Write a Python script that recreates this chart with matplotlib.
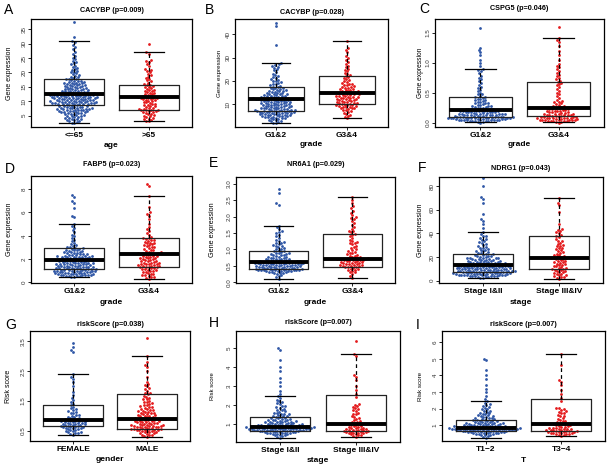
import warnings; warnings.filterwarnings("ignore")
import numpy as np
import matplotlib; matplotlib.use("Agg"); import matplotlib.pyplot as plt

def vals(s): return np.array(s.split(), float)

# ---- data (one list per group) ----
A_LE65 = vals("""2.4 2.6 2.8 3.1 3.2 3.4 3.5 3.7 3.9 4.0 4.2 4.3 4.5 4.6 4.8 4.9 5.0 5.2 5.3 5.4 5.6 5.7 5.8 5.9
6.0 6.1 6.2 6.3 6.4 6.5 6.6 6.7 6.8 6.9 7.0 7.0 7.1 7.2 7.3 7.4 7.5 7.6 7.7 7.8 7.9 8.0 8.1 8.2 8.3 8.5
8.7 8.8 8.9 9.0 9.0 9.1 9.2 9.3 9.4 9.4 9.5 9.6 9.7 9.8 9.8 9.9 10.0 10.1 10.2 10.2 10.3 10.4 10.5 10.6
10.7 10.8 10.9 11.0 11.0 11.1 11.2 11.3 11.3 11.4 11.5 11.6 11.7 11.7 11.8 11.9 12.0 12.0 12.1 12.2 12.2
12.3 12.3 12.4 12.4 12.5 12.6 12.7 12.9 13.0 13.1 13.2 13.4 13.5 13.6 13.7 13.9 14.0 14.1 14.3 14.4 14.5
14.7 14.8 14.9 15.1 15.2 15.3 15.5 15.6 15.7 15.9 16.0 16.1 16.3 16.4 16.5 16.7 16.8 16.9 17.1 17.2 17.4
17.6 17.7 17.9 18.1 18.3 18.6 18.8 19.1 19.4 19.7 20.0 20.3 20.6 21.0 21.3 21.7 22.0 22.4 22.8 23.2 23.6
24.1 24.6 25.2 25.8 26.5 27.3 28.1 28.9 29.7 30.5 30.9 32.2 37.4
8.0 8.4 8.9 9.3 9.6 10.1 10.5 10.9 11.2 11.6 12.1 12.6 13.3 13.8 14.6 15.4 16.2 7.6 9.1 9.9 10.7 11.4
12.9 13.2 14.2 6.6 7.3 11.8 12.7 10.3""")
A_GT65 = vals("""3.0 3.2 3.5 3.8 4.0 4.3 4.5 4.8 5.0 5.2 5.5 5.7 5.9 6.1 6.3 6.5 6.6 6.8 6.9 7.0 7.1 7.2 7.4 7.6
7.8 8.0 8.2 8.4 8.6 8.8 9.0 9.2 9.4 9.6 9.8 10.0 10.2 10.4 10.6 10.8 10.9 11.0 11.1 11.2 11.3 11.4 11.5
11.6 11.8 12.0 12.2 12.4 12.6 12.8 13.0 13.2 13.4 13.6 13.8 14.0 14.2 14.5 14.8 15.0 15.3 15.6 15.8 16.1
16.5 16.9 17.3 17.7 18.2 18.6 19.0 19.5 20.1 20.6 20.9 21.3 22.4 23.1 23.8 24.1 24.3 26.6 27.0 29.9""")
B_G12 = vals("""1.8 2.1 2.4 2.7 2.9 3.1 3.3 3.5 3.7 3.9 4.1 4.3 4.4 4.6 4.8 4.9 5.1 5.2 5.4 5.5 5.7 5.8 5.9 6.0
6.2 6.3 6.4 6.5 6.6 6.7 6.8 6.9 7.0 7.1 7.2 7.3 7.4 7.5 7.6 7.7 7.9 8.0 8.2 8.3 8.5 8.6 8.8 8.9 9.1 9.2
9.4 9.5 9.7 9.8 10.0 10.1 10.3 10.4 10.6 10.7 10.9 11.0 11.2 11.3 11.5 11.6 11.8 11.9 12.0 12.1 12.1 12.2
12.2 12.3 12.3 12.4 12.4 12.5 12.6 12.8 12.9 13.1 13.2 13.4 13.5 13.7 13.8 14.0 14.2 14.3 14.5 14.7 14.9
15.0 15.2 15.4 15.6 15.8 16.0 16.2 16.4 16.6 16.8 17.0 17.2 17.4 17.6 17.9 18.2 18.5 18.8 19.1 19.4 19.8
20.1 20.5 20.9 21.3 21.7 22.2 22.7 23.2 23.8 24.5 25.1 25.7 26.2 26.6 27.0 27.3 27.6 35.4 43.8 45.0
4.2 4.7 5.0 5.3 5.6 6.1 6.4 6.8 7.1 7.4 7.8 8.1 8.4 8.7 9.0 9.3 9.6 9.9 10.2 10.5 10.8 11.1 11.4 11.7
12.0 12.6 13.0 13.6 14.4 15.5""")
B_G34 = vals("""4.0 4.6 5.1 5.6 6.0 6.4 6.8 7.1 7.4 7.7 8.0 8.2 8.5 8.7 8.9 9.1 9.3 9.5 9.7 9.9 10.1 10.3 10.5
10.7 10.9 11.1 11.3 11.5 11.7 11.9 12.1 12.3 12.5 12.7 12.9 13.1 13.3 13.5 13.7 13.9 14.1 14.3 14.5 14.7
14.9 15.1 15.3 15.6 15.8 16.1 16.4 16.6 16.9 17.2 17.5 17.8 18.1 18.4 18.8 19.1 19.5 19.9 20.3 20.7 21.1
21.6 22.0 22.5 23.0 23.6 24.2 24.8 25.3 25.9 26.6 27.4 28.2 29.1 30.0 30.9 32.4 33.5 34.1 37.0
8.3 9.0 9.6 10.4 11.0 11.8 12.4 13.0 13.6 14.2 14.8 15.5 16.3 17.4 18.6""")
C_G12 = vals("""0.00 0.01 0.01 0.02 0.02 0.03 0.03 0.03 0.04 0.04 0.04 0.05 0.05 0.05 0.05 0.06 0.06 0.06 0.06
0.07 0.07 0.07 0.07 0.07 0.08 0.08 0.08 0.08 0.08 0.09 0.09 0.09 0.09 0.10 0.10 0.10 0.11 0.11 0.11 0.12
0.12 0.12 0.13 0.13 0.14 0.14 0.15 0.15 0.15 0.16 0.16 0.17 0.17 0.18 0.18 0.19 0.19 0.20 0.20 0.20 0.21
0.21 0.22 0.22 0.23 0.23 0.24 0.25 0.25 0.26 0.27 0.28 0.28 0.29 0.30 0.31 0.32 0.33 0.34 0.35 0.36 0.37
0.38 0.39 0.40 0.41 0.42 0.43 0.45 0.47 0.48 0.50 0.52 0.55 0.58 0.60 0.63 0.66 0.69 0.72 0.75 0.78 0.82
0.86 0.88 0.89 0.94 1.00 1.05 1.12 1.17 1.21 1.25 1.57
0.04 0.05 0.06 0.07 0.08 0.09 0.10 0.11 0.12 0.13 0.14 0.15 0.16 0.17 0.18 0.19 0.20 0.22 0.26 0.33""")
C_G34 = vals("""0.00 0.01 0.01 0.02 0.02 0.03 0.03 0.04 0.04 0.04 0.05 0.05 0.05 0.06 0.06 0.06 0.07 0.07 0.07
0.08 0.08 0.08 0.09 0.09 0.10 0.10 0.11 0.11 0.12 0.12 0.13 0.13 0.14 0.14 0.15 0.16 0.16 0.17 0.18 0.19
0.20 0.20 0.21 0.22 0.23 0.23 0.24 0.25 0.26 0.28 0.30 0.32 0.34 0.36 0.38 0.41 0.44 0.47 0.50 0.53 0.56
0.59 0.62 0.64 0.66 0.68 0.70 0.72 0.74 0.77 0.80 0.83 0.86 0.89 0.92 0.95 0.98 1.05 1.12 1.20 1.28 1.34
1.38 1.41 1.60
0.03 0.05 0.07 0.09 0.11 0.13 0.15 0.17 0.19 0.21 0.24 0.27 0.31 0.35""")
D_G12 = vals("""0.48 0.50 0.53 0.55 0.58 0.60 0.62 0.65 0.67 0.70 0.72 0.75 0.78 0.80 0.83 0.85 0.88 0.90 0.93
0.95 0.98 1.00 1.02 1.05 1.07 1.10 1.12 1.14 1.17 1.20 1.22 1.25 1.28 1.30 1.33 1.36 1.39 1.42 1.45 1.48
1.51 1.54 1.57 1.60 1.63 1.66 1.69 1.72 1.75 1.78 1.81 1.84 1.87 1.90 1.92 1.95 1.98 2.01 2.05 2.08 2.12
2.15 2.19 2.22 2.26 2.30 2.34 2.38 2.42 2.46 2.50 2.55 2.60 2.65 2.70 2.75 2.80 2.86 2.92 2.98 3.05 3.12
3.20 3.30 3.40 3.52 3.65 3.80 3.95 4.10 4.30 4.50 4.70 4.85 5.00 5.65 5.70 6.40 6.85 6.95 7.35 7.50
0.55 0.6 0.65 0.7 0.75 0.8 0.85 0.9 0.95 1.0 1.05 1.1 1.15 1.2 1.25 1.3 1.35 1.4 1.45 1.5 1.55 1.6 1.65
1.7 1.75 1.8 1.85 1.9 1.95 2.0 2.05 2.1 2.15 2.2 2.25 2.3 2.35 2.4 2.5 2.6 2.7 2.8 2.9 3.0 1.2 1.0 0.9
1.6 1.9 2.2""")
D_G34 = vals("""0.31 0.40 0.50 0.58 0.66 0.74 0.82 0.90 0.98 1.05 1.12 1.18 1.24 1.30 1.35 1.40 1.45 1.50 1.55
1.60 1.65 1.70 1.76 1.82 1.88 1.94 2.00 2.06 2.12 2.18 2.24 2.30 2.36 2.42 2.45 2.50 2.56 2.62 2.70 2.78
2.86 2.94 3.02 3.10 3.18 3.26 3.34 3.42 3.50 3.58 3.66 3.74 3.80 3.90 4.05 4.20 4.40 4.60 4.75 5.00 5.40
5.70 5.90 6.00 6.50 7.40 8.30 8.45
0.45 0.6 0.75 0.9 1.0 1.1 1.2 1.3 1.4 1.5 1.6 1.7 1.8 1.9 2.0 2.1 2.2 2.3 2.4 2.5 2.6 2.8 3.0 3.2 3.4
3.6 3.8 1.35 1.55 2.45""")
E_G12 = vals("""0.10 0.15 0.19 0.22 0.25 0.27 0.29 0.31 0.33 0.34 0.35 0.36 0.37 0.38 0.39 0.40 0.41 0.42 0.43
0.44 0.45 0.46 0.47 0.48 0.49 0.50 0.51 0.52 0.53 0.54 0.55 0.56 0.57 0.58 0.59 0.60 0.61 0.62 0.63 0.64
0.65 0.66 0.67 0.68 0.70 0.71 0.73 0.74 0.76 0.78 0.80 0.82 0.84 0.86 0.88 0.90 0.92 0.94 0.97 1.00 1.03
1.06 1.09 1.12 1.15 1.18 1.22 1.26 1.30 1.35 1.40 1.45 1.50 1.53 1.56 1.62 1.68 1.72 2.35 2.40 2.70 2.85
0.28 0.30 0.32 0.34 0.35 0.36 0.37 0.38 0.39 0.40 0.41 0.42 0.43 0.44 0.45 0.46 0.47 0.48 0.49 0.50 0.51
0.52 0.53 0.54 0.55 0.56 0.57 0.58 0.59 0.60 0.61 0.62 0.63 0.64 0.65 0.66 0.68 0.70 0.72 0.75 0.78 0.82
0.86 0.90 0.95 1.02 1.10 1.20 0.38 0.58""")
E_G34 = vals("""0.14 0.20 0.26 0.31 0.35 0.39 0.42 0.45 0.47 0.49 0.51 0.53 0.55 0.57 0.59 0.61 0.63 0.65 0.67
0.69 0.70 0.71 0.73 0.75 0.78 0.81 0.84 0.88 0.92 0.96 1.00 1.05 1.10 1.15 1.20 1.25 1.30 1.35 1.40 1.45
1.48 1.52 1.57 1.62 1.68 1.74 1.80 1.86 1.92 1.98 2.05 2.12 2.18 2.25 2.32 2.40 2.50 2.58
0.30 0.36 0.42 0.46 0.48 0.50 0.52 0.54 0.56 0.58 0.60 0.62 0.64 0.66 0.68 0.69 0.70 0.71 0.72 0.74 0.76
0.80 0.85 0.90 0.98 1.06 1.18 1.22 1.55 1.95""")
F_S12 = vals("""2.2 2.6 3.0 3.4 3.8 4.1 4.4 4.7 5.0 5.3 5.6 5.9 6.2 6.5 6.8 7.0 7.3 7.6 7.9 8.2 8.5 8.8 9.1 9.4
9.7 10.0 10.3 10.6 10.9 11.2 11.5 11.8 12.1 12.4 12.7 13.0 13.2 13.5 13.8 14.1 14.5 14.9 15.3 15.7 16.1
16.5 17.0 17.5 18.0 18.5 19.0 19.6 20.2 20.8 21.4 22.0 22.5 23.2 24.0 24.8 25.7 26.6 27.6 28.6 29.7 30.9
32.1 33.4 34.8 36.3 37.9 39.5 41.3 45.0 48.0 50.5 52.0 56.5 66.0 69.5 71.0 80.0 87.0
3.2 3.6 4.0 4.3 4.6 4.9 5.2 5.5 5.8 6.1 6.4 6.7 7.0 7.2 7.5 7.8 8.0 8.3 8.6 8.9 9.2 9.5 9.8 10.1 10.4
10.7 11.0 11.3 11.6 11.9 12.2 12.5 12.8 13.1 13.4 13.7 14.0 14.4 14.8 15.2 15.6 16.0 16.6 17.2 17.8 18.4
19.2 20.0 21.0 22.2 23.5 25.0 26.0 28.0 30.0 32.5 35.0 38.0 4.5 5.1 5.7 6.3 6.9 7.4 7.9 8.4 8.9 9.6 10.2
10.8 11.4 12.0 12.6 13.3 14.2 15.0 16.3 17.6 19.0 20.5 3.8 4.8 6.0 7.7 9.0 10.5 11.8 13.6 15.8 18.8""")
F_S34 = vals("""1.4 2.5 3.5 4.5 5.5 6.5 7.5 8.5 9.2 9.8 10.5 11.5 12.5 13.5 14.5 15.5 16.5 17.5 18.5 19.2 19.6
20.0 21.0 22.0 23.5 25.0 26.5 28.0 29.0 30.5 32.0 33.5 35.0 37.0 38.0 40.0 42.0 43.0 48.0 58.0 64.0 66.0 70.5
3.0 4.0 5.0 6.0 7.0 8.0 9.0 10.0 11.0 12.0 13.0 14.0 15.0 16.0 17.0 18.0 19.0 19.5 20.5 21.5 23.0 24.5
26.0 27.5 29.5 31.0 34.0 38.5 41.0 43.5""")
G_FEM = vals("""0.37 0.40 0.43 0.46 0.49 0.52 0.55 0.58 0.61 0.63 0.65 0.67 0.69 0.71 0.73 0.75 0.77 0.79 0.81
0.83 0.85 0.87 0.89 0.91 0.94 0.97 1.00 1.04 1.08 1.12 1.16 1.20 1.25 1.30 1.35 1.40 1.45 1.52 1.60 1.70
1.80 2.00 2.15 2.25 2.30 2.40 3.15 3.20 3.30 3.45
0.42 0.45 0.48 0.52 0.55 0.58 0.60 0.62 0.64 0.66 0.68 0.70 0.72 0.74 0.76 0.78 0.80 0.82 0.84 0.88 0.92
0.96 1.02 1.10 1.22""")
G_MAL = vals("""0.28 0.31 0.34 0.37 0.40 0.42 0.44 0.46 0.48 0.50 0.51 0.52 0.53 0.54 0.55 0.56 0.57 0.58 0.59
0.60 0.61 0.62 0.63 0.64 0.65 0.66 0.67 0.68 0.69 0.70 0.72 0.74 0.76 0.78 0.80 0.82 0.84 0.86 0.88 0.90
0.93 0.96 0.99 1.02 1.05 1.08 1.11 1.14 1.17 1.20 1.24 1.28 1.32 1.36 1.40 1.45 1.50 1.55 1.60 1.66 1.72
1.78 1.85 1.92 2.00 2.08 2.15 2.30 2.50 2.65 2.70 2.80 3.00 3.60
0.35 0.41 0.45 0.49 0.53 0.57 0.61 0.65 0.69 0.73 0.75 0.77 0.79 0.81 0.83 0.85 0.87 0.89 0.92 0.95 0.98
1.01 1.04 1.07 1.10 1.13 1.16 1.19 1.23 1.27 1.31 1.35 1.42 1.48 1.56 1.64 1.76 1.90 2.05""")
H_S12 = vals("""0.28 0.32 0.36 0.40 0.43 0.46 0.49 0.52 0.54 0.56 0.58 0.60 0.62 0.63 0.64 0.66 0.68 0.70 0.72
0.74 0.76 0.78 0.80 0.82 0.84 0.86 0.88 0.90 0.93 0.96 0.99 1.02 1.05 1.08 1.11 1.14 1.18 1.22 1.26 1.30
1.35 1.40 1.46 1.52 1.58 1.65 1.72 1.80 1.88 1.96 2.05 2.15 2.25 2.35 2.47 2.60 2.75 3.00 3.20 3.40 3.80
4.00 4.35 4.90 5.00
0.40 0.45 0.50 0.53 0.55 0.57 0.59 0.61 0.63 0.65 0.66 0.67 0.68 0.69 0.70 0.71 0.72 0.73 0.74 0.75 0.76
0.77 0.78 0.79 0.80 0.81 0.82 0.83 0.84 0.85 0.86 0.87 0.88 0.89 0.90 0.92 0.94 0.96 0.98 1.00 1.03 1.06
1.09 1.12 1.15 1.19 1.23 1.27 1.32 1.37 1.43 1.50 1.58 1.66 1.75 1.85 1.95 2.10 2.20 0.71 0.75 0.79 0.83
0.87 0.91 0.95 1.01 1.07 1.13 1.21 1.29 1.41 1.55""")
H_S34 = vals("""0.33 0.38 0.43 0.48 0.53 0.58 0.63 0.68 0.73 0.78 0.83 0.88 0.93 0.98 1.02 1.06 1.12 1.20 1.30
1.40 1.50 1.60 1.70 1.80 1.90 2.00 2.40 2.60 2.80 3.00 3.30 3.50 3.60 4.60 4.68 5.35
0.40 0.45 0.50 0.55 0.58 0.60 0.62 0.64 0.66 0.68 0.70 0.72 0.75 0.78 0.81 0.85 0.90 0.95 1.00 1.08 1.16
1.26 1.36 1.55 1.75 1.85 1.95 2.05 0.52 0.57""")
I_T12 = vals("""0.24 0.30 0.35 0.39 0.43 0.46 0.49 0.52 0.54 0.56 0.58 0.60 0.62 0.63 0.64 0.66 0.68 0.70 0.72
0.74 0.76 0.78 0.80 0.82 0.84 0.86 0.88 0.90 0.93 0.96 0.99 1.02 1.05 1.08 1.11 1.14 1.18 1.22 1.26 1.30
1.35 1.40 1.46 1.52 1.58 1.65 1.72 1.80 1.88 1.96 2.05 2.15 2.25 2.35 2.47 2.60 2.75 3.00 3.20 3.40 3.80
4.00 4.35 4.90 5.00
0.42 0.46 0.50 0.53 0.55 0.57 0.59 0.61 0.63 0.65 0.66 0.67 0.68 0.69 0.70 0.71 0.72 0.73 0.74 0.75 0.76
0.77 0.78 0.79 0.80 0.81 0.82 0.83 0.84 0.85 0.86 0.87 0.88 0.89 0.90 0.92 0.94 0.96 0.98 1.00 1.03 1.06
1.09 1.12 1.15 1.19 1.23 1.27 1.32 1.37 1.43 1.50 1.58 1.66 1.75 1.85 1.95 2.10 2.20 0.71 0.75 0.79 0.83
0.87 0.91 0.95 1.01 1.07 1.13 1.21 1.29 1.41 1.55""")
I_T34 = vals("""0.34 0.39 0.44 0.49 0.54 0.59 0.64 0.69 0.74 0.79 0.84 0.89 0.94 0.99 1.04 1.08 1.14 1.22 1.32
1.42 1.52 1.62 1.72 1.82 1.92 2.02 2.45 2.65 2.85 3.10 3.40 3.60 3.70 4.60 5.32
0.40 0.45 0.50 0.55 0.58 0.60 0.62 0.64 0.66 0.68 0.70 0.72 0.75 0.78 0.81 0.85 0.90 0.95 1.00 1.08 1.16
1.26 1.36 1.55 1.75 1.85 1.95 2.05 0.52 0.57""")

# box statistics (whislo, q1, median, q3, whishi) per group
A_BOX = [(2.4, 8.7, 12.5, 17.7, 31.0), (3.0, 7.1, 11.4, 15.8, 27.0)]
B_BOX = [(1.8, 7.3, 12.2, 17.5, 27.6), (4.0, 10.1, 14.7, 22.05, 37.0)]
C_BOX = [(0.005, 0.094, 0.216, 0.43, 0.89), (0.005, 0.116, 0.238, 0.68, 1.41)]
D_BOX = [(0.48, 1.13, 1.9, 2.92, 5.0), (0.31, 1.33, 2.44, 3.8, 7.4)]
E_BOX = [(0.10, 0.41, 0.63, 0.94, 1.72), (0.14, 0.46, 0.70, 1.48, 2.6)]
F_BOX = [(2.2, 7.3, 13.2, 22.5, 41.3), (1.4, 9.8, 19.6, 37.9, 70.5)]
G_BOX = [(0.366, 0.656, 0.846, 1.38, 2.40), (0.277, 0.556, 0.88, 1.73, 3.0)]
H_BOX = [(0.28, 0.63, 0.82, 1.35, 2.47), (0.33, 0.63, 1.02, 2.52, 4.68)]
I_BOX = [(0.24, 0.63, 0.84, 1.33, 2.475), (0.34, 0.67, 1.04, 2.6, 5.32)]

LETTERS = list("ABCDEFGHI")
TITLES = ["CACYBP (p=0.009)", "CACYBP (p=0.028)", "CSPG5 (p=0.046)", "FABP5 (p=0.023)", "NR6A1 (p=0.029)",
          "NDRG1 (p=0.043)", "riskScore (p=0.038)", "riskScore (p=0.007)", "riskScore (p=0.007)"]
XLABS = ["age", "grade", "grade", "grade", "grade", "stage", "gender", "stage", "T"]
YLABS = ["Gene expression"] * 6 + ["Risk score"] * 3
CATS = [["<=65", ">65"], ["G1&2", "G3&4"], ["G1&2", "G3&4"], ["G1&2", "G3&4"], ["G1&2", "G3&4"],
        ["Stage I&II", "Stage III&IV"], ["FEMALE", "MALE"], ["Stage I&II", "Stage III&IV"], ["T1\u22122", "T3\u22124"]]
DATA = [(A_LE65, A_GT65), (B_G12, B_G34), (C_G12, C_G34), (D_G12, D_G34), (E_G12, E_G34),
        (F_S12, F_S34), (G_FEM, G_MAL), (H_S12, H_S34), (I_T12, I_T34)]
BOXES = [A_BOX, B_BOX, C_BOX, D_BOX, E_BOX, F_BOX, G_BOX, H_BOX, I_BOX]
YTICKS = [[5, 10, 15, 20, 25, 30, 35], [10, 20, 30, 40], [0.0, 0.5, 1.0, 1.5], [0, 2, 4, 6, 8],
          [0.0, 0.5, 1.0, 1.5, 2.0, 2.5, 3.0], [0, 20, 40, 60, 80], [0.5, 1.5, 2.5, 3.5], [1, 2, 3, 4, 5],
          [1, 2, 3, 4, 5, 6]]
YFMT = ["{:.0f}", "{:.0f}", "{:.1f}", "{:.0f}", "{:.1f}", "{:.0f}", "{:.1f}", "{:.0f}", "{:.0f}"]
YLIMS = [(1.05, 38.6), (0.25, 46.6), (-0.072, 1.727), (-0.05, 9.13), (-0.02, 3.2), (-2.0, 87.9),
         (0.154, 3.85), (0.05, 5.9), (0.04, 6.68)]

# ---- layout (pixels in a 610x466 canvas) ----
W, H = 610, 466
RECTS = [(31, 19, 192, 127), (235, 19, 388, 127), (435, 19, 604, 127),
         (31, 176, 192, 283), (236, 177, 395, 283), (439, 177, 603, 283),
         (30, 331, 190, 441), (236, 331, 400, 442), (442, 331, 605, 441)]
TITLE_Y = [10, 12, 9, 165, 165, 168, 325, 322, 324]
LETTER_XY = [(4, 10), (205, 10), (419, 9), (5, 169), (209, 163), (418, 168), (5, 325), (209, 323), (416, 325)]
YLAB_X = [9, 219, 421, 9, 212, 421, 9, 213, 421]
YLAB_FS = [5.0, 4.5, 4.8, 5.0, 5.2, 5.0, 5.1, 4.2, 4.5]
XLAB_Y = [145, 144, 144, 302.5, 302.5, 302, 459.5, 460, 460]
BLUE, RED = "#2f56a6", "#e41a1c"

plt.rcParams.update({"font.family": "Liberation Sans"})
fig = plt.figure(figsize=(W / 100, H / 100), dpi=100)


def swarm(y, pos, rect, ylim, d=2.75):
    """simple beeswarm: offsets in pixels, returned in data x units"""
    l, t, r, b = rect
    hpx, wpx = b - t, r - l
    yp = (y - ylim[0]) / (ylim[1] - ylim[0]) * hpx
    order = np.argsort(yp, kind="stable")
    xs = np.zeros(len(y)); placed = []
    for i in order:
        near = [(a, c) for a, c in placed if yp[i] - c < d]
        cands = [0.0]
        for a, c in near:
            dx = np.sqrt(max(d * d - (yp[i] - c) ** 2, 0))
            cands += [a - dx, a + dx]
        for cx in sorted(cands, key=abs):
            if all((cx - a) ** 2 + (yp[i] - c) ** 2 >= d * d - 1e-6 for a, c in near):
                xs[i] = cx; break
        placed.append((xs[i], yp[i]))
    return pos + xs / wpx * 2.16


for k in range(9):
    l, t, r, b = RECTS[k]
    ax = fig.add_axes([l / W, 1 - b / H, (r - l) / W, (b - t) / H])
    ax.set_xlim(0.42, 2.58); ax.set_ylim(*YLIMS[k])
    for j, (g, col) in enumerate(zip(DATA[k], [BLUE, RED])):
        ax.scatter(swarm(g, j + 1, RECTS[k], YLIMS[k]), g, s=4.0, color=col, linewidths=0, zorder=2)
    stats = [dict(whislo=s[0], q1=s[1], med=s[2], q3=s[3], whishi=s[4], fliers=[]) for s in BOXES[k]]
    ax.bxp(stats, positions=[1, 2], widths=0.8, capwidths=0.4, showfliers=False, manage_ticks=False,
           boxprops=dict(color="#222222", lw=0.9), medianprops=dict(color="black", lw=2.8, solid_capstyle="butt"),
           whiskerprops=dict(color="black", lw=0.9, ls=(0, (3, 2.5))), capprops=dict(color="black", lw=0.9))
    for a in ax.get_children():
        if isinstance(a, matplotlib.lines.Line2D) and a.get_zorder() < 3: a.set_zorder(3)
    for s in ax.spines.values(): s.set_linewidth(0.9)
    ax.set_xticks([1, 2]); ax.set_xticklabels(CATS[k], fontsize=6, fontweight="bold")
    ax.set_yticks(YTICKS[k]); ax.set_yticklabels([YFMT[k].format(v) for v in YTICKS[k]], fontsize=4.5,
                                                  rotation=90, va="center", color="#333333")
    ax.tick_params(axis="x", length=2, width=0.6, pad=1.4)
    ax.tick_params(axis="y", length=2, width=0.6, pad=1.2)
    ax.set_ylabel(YLABS[k], fontsize=YLAB_FS[k], va="center")
    ax.yaxis.set_label_coords((YLAB_X[k] - l) / (r - l), 0.5)
    ax.set_xlabel(XLABS[k], fontsize=6, fontweight="bold", va="center")
    ax.xaxis.set_label_coords(0.5, -(XLAB_Y[k] - b) / (b - t))
    fig.text(((l + r) / 2) / W, 1 - TITLE_Y[k] / H, TITLES[k], ha="center", va="center", fontsize=5.2,
             fontweight="bold")
    fig.text(LETTER_XY[k][0] / W, 1 - LETTER_XY[k][1] / H, LETTERS[k], ha="left", va="center", fontsize=10)

fig.savefig("out.png", dpi=100)
